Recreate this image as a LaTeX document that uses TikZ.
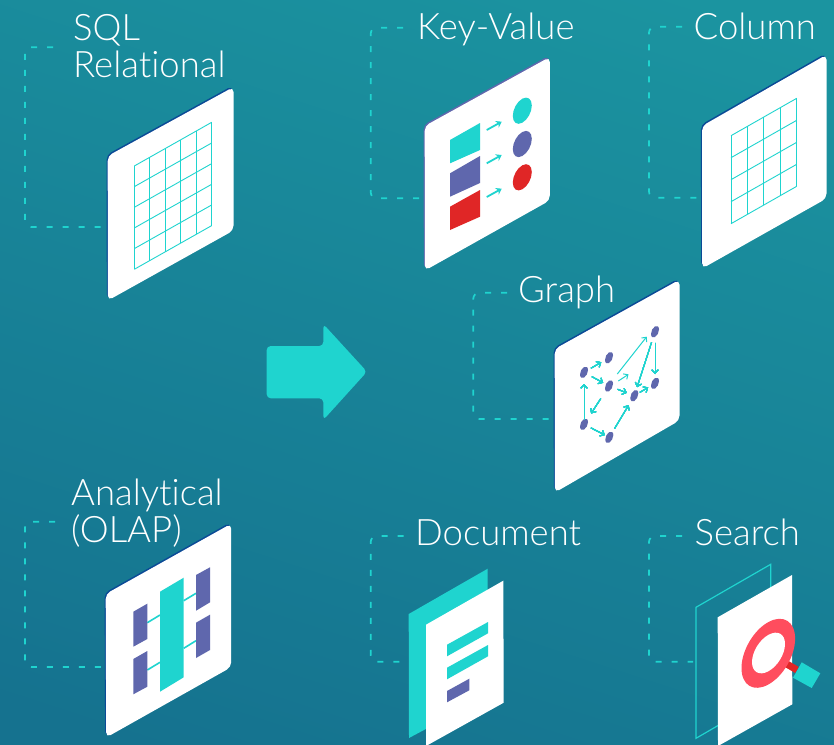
\documentclass[tikz,border=0pt]{standalone}
\usepackage{fontspec}
\setmainfont[Ligatures=NoCommon]{Lato Light}
\usetikzlibrary{arrows.meta}
\definecolor{bgA}{HTML}{1B94A0}
\definecolor{bgB}{HTML}{15728F}
\definecolor{tealc}{HTML}{1FD4CF}
\definecolor{bluec}{HTML}{5F67AD}
\definecolor{redc}{HTML}{E02626}
\definecolor{pinkc}{HTML}{FF4D5E}
\definecolor{edgec}{HTML}{0B4A96}
\tikzset{
  lbl/.style={anchor=base west,inner sep=0pt,text=white,font=\fontsize{36.5}{37.5}\selectfont,align=left},
  dashline/.style={draw=tealc,line width=1.7pt,dash pattern=on 6pt off 10pt,rounded corners=6pt},
  gridline/.style={draw=tealc,line width=0.9pt},
  garrow/.style={draw=tealc,line width=1pt,-{Straight Barb[length=3.5pt,width=6.5pt]}},
  kvarrow/.style={draw=tealc,line width=1.8pt,-{Stealth[length=5.5pt,width=7.5pt]}},
  link/.style={draw=tealc,line width=1.6pt},
}
% card: four corners, edge colour
\newcommand\card[5]{%
  \fill[#5,rounded corners=5pt,xshift=-1.1pt,yshift=1.2pt] #1 -- #2 -- #3 -- #4 -- cycle;
  \fill[white,rounded corners=5pt] #1 -- #2 -- #3 -- #4 -- cycle;}
% grid: x, y, width, rise, height, n
\newcommand\isogrid[6]{%
  \foreach \i in {0,...,#6}{
    \draw[gridline] ({#1+\i*#3/#6},{#2-\i*#4/#6}) -- ++(0,#5);
    \draw[gridline] (#1,{#2+\i*#5/#6}) -- ++(#3,-#4);
  }}
% skewed ellipse
\newcommand\isoell[4]{\fill[#4,cm={1,0.55,0,1,#1}] (0,0) ellipse [x radius=#2,y radius=#3];}
\begin{document}
\begin{tikzpicture}[x=1pt,y=-1pt]
\useasboundingbox (0,0) rectangle (834,744);
\clip (0,0) rectangle (834,744);
\shade[top color=bgA,bottom color=bgB,shading angle=-18] (-60,-60) rectangle (894,804);

% labels
\node[lbl] (sql) at (73,77.5) {SQL\\Relational};
\node[lbl] (kv) at (417,39.5) {Key-Value};
\node[lbl] (col) at (693.5,39) {Column};
\node[lbl] (graph) at (518,302.5) {Graph};
\node[lbl] (olap) at (71,542.7) {Analytical\\(OLAP)};
\node[lbl] (doc) at (415,545) {Document};
\node[lbl] (search) at (694.5,545) {Search};

% dashed connectors
\coordinate (sqlA) at (53,47.3); \coordinate (sqlX) at (25,100); \coordinate (sqlB) at (104,227);
\coordinate (kvA) at (403,27.7); \coordinate (kvX) at (370.7,100); \coordinate (kvB) at (424,198.3);
\coordinate (colA) at (682,26.7); \coordinate (colX) at (649,100); \coordinate (colB) at (702,197.7);
\coordinate (grA) at (507,292.7); \coordinate (grX) at (473.3,350); \coordinate (grB) at (554,419);
\coordinate (olA) at (55,521.7); \coordinate (olX) at (25,600); \coordinate (olB) at (105,667);
\coordinate (docA) at (403.5,536); \coordinate (docX) at (370.7,600); \coordinate (docB) at (409,661.7);
\coordinate (seA) at (682,536); \coordinate (seX) at (649,600); \coordinate (seB) at (693,661.7);
\foreach \a/\x/\b in {sqlA/sqlX/sqlB,kvA/kvX/kvB,colA/colX/colB,grA/grX/grB,olA/olX/olB,docA/docX/docB,seA/seX/seB}
  \draw[dashline] (\a) -| (\x) |- (\b);

% central arrow
\fill[tealc,rounded corners=4pt] (266.7,346) -- (323.3,346) -- (323.3,324) -- (367,371.7) -- (323.3,420) -- (323.3,398.3) -- (266.7,398.3) -- cycle;

% SQL card
\card{(107.7,156)}{(233.5,87)}{(233.5,230.5)}{(107.9,300.5)}{edgec}
\isogrid{134.3}{166}{77.4}{43.7}{103.3}{5}

% Key-Value card
\card{(424.7,126)}{(549.8,57)}{(549.8,200.5)}{(424.9,270.5)}{bluec}
\fill[tealc] (450,140) -- (480,123) -- (480,150) -- (450,163.3) -- cycle;
\fill[bluec] (450,173.3) -- (480,156) -- (480,183) -- (450,196.7) -- cycle;
\fill[redc] (450,206.7) -- (480,190) -- (480,216.7) -- (450,230) -- cycle;
\isoell{(522.3,110.7)}{9.5}{12}{tealc}
\isoell{(522.3,144)}{9.5}{12}{bluec}
\isoell{(522.3,177.3)}{9.5}{12}{redc}
\coordinate (ka1) at (486.7,130); \coordinate (kb1) at (501.7,121.7);
\coordinate (ka2) at (486.7,163.3); \coordinate (kb2) at (501.7,155);
\coordinate (ka3) at (486.7,197); \coordinate (kb3) at (501.7,188.7);
\draw[kvarrow] (ka1) -- (kb1);
\draw[kvarrow] (ka2) -- (kb2);
\draw[kvarrow] (ka3) -- (kb3);

% Column card
\card{(702,126)}{(826.5,54.7)}{(826.5,198.5)}{(702.2,268.5)}{edgec}
\isogrid{731}{135.7}{65.7}{37.4}{88}{4}

% Graph card
\card{(554.7,349)}{(679.5,279.7)}{(679.5,420.5)}{(554.9,492.5)}{edgec}
\coordinate (n1) at (584,372.3);
\coordinate (n2) at (609,357.7);
\coordinate (n3) at (609,386);
\coordinate (n4) at (584,424.3);
\coordinate (n5) at (609.3,437.3);
\coordinate (n6) at (634.3,395.7);
\coordinate (n7) at (655,383.3);
\coordinate (n8) at (655,331.7);
\coordinate (g1) at (618.3,381); \coordinate (g2) at (628.5,374.3);
\coordinate (g3) at (617.3,374); \coordinate (g4) at (646.7,336.7);
\foreach \n in {n1,n2,n3,n4,n5,n6,n7,n8} \isoell{(\n)}{4}{5.3}{bluec}
\foreach \a/\b/\s/\e in {n1/n2/8/9,n1/n3/9/6.7,n4/n1/4.5/11.7,n3/n4/15/13,n4/n5/7.7/5,n5/n6/10/11,n3/n6/9/8,n8/n6/11/9,n8/n7/11/9.3,n6/n7/6.5/8}
  \draw[garrow,shorten <=\s pt,shorten >=\e pt] (\a) -- (\b);
\draw[garrow] (g1) -- (g2);
\draw[garrow] (g3) -- (g4);

% Analytical card
\card{(105.7,594)}{(231.2,523.7)}{(231.2,667.2)}{(106.2,737.5)}{edgec}
\coordinate (ol1) at (147.3,622.7); \coordinate (oc1) at (160,615);
\coordinate (ol2) at (147.3,670); \coordinate (oc2) at (160,662.3);
\coordinate (oc3) at (183.7,600.7); \coordinate (or3) at (196,593.3);
\coordinate (oc4) at (183.7,648.3); \coordinate (or4) at (196,640.7);
\draw[link] (ol1) -- (oc1);
\draw[link] (ol2) -- (oc2);
\draw[link] (oc3) -- (or3);
\draw[link] (oc4) -- (or4);
\fill[tealc] (160,591.7) -- (183.7,577.7) -- (183.7,677.3) -- (160,691.7) -- cycle;
\fill[bluec] (133.3,611.7) -- (147.3,603.7) -- (147.3,639) -- (133.3,646.7) -- cycle;
\fill[bluec] (133.3,659) -- (147.3,651) -- (147.3,686.7) -- (133.3,694.3) -- cycle;
\fill[bluec] (196,575) -- (210,567.3) -- (210,602.3) -- (196,610.7) -- cycle;
\fill[bluec] (196,622.7) -- (210,614.7) -- (210,650) -- (196,658) -- cycle;

% Document
\fill[tealc] (408.7,614) -- (487.7,568.7) -- (487.7,696) -- (409,738) -- cycle;
\fill[white] (426,624.7) -- (503.3,580.7) -- (503.7,702.7) -- (426,746) -- cycle;
\fill[tealc] (447,644.7) -- (488,622) -- (488,633.3) -- (447,656.3) -- cycle;
\fill[tealc] (447,667.7) -- (488,645) -- (488,656.3) -- (447,679.3) -- cycle;
\fill[bluec] (447,691) -- (469.3,678.7) -- (469.3,690.3) -- (447,702.3) -- cycle;

% Search
\draw[tealc,line width=1.2pt,line join=miter] (696,607.3) -- (770.7,564.3) -- (770.7,695) -- (696,738.3) -- cycle;
\fill[white] (717.7,617.3) -- (792,575) -- (792.3,704.3) -- (718,746) -- cycle;
\coordinate (hA) at (785,663); \coordinate (hB) at (797,670);
\draw[redc,line width=7pt] (hA) -- (hB);
\fill[tealc] (801.7,662.3) -- (820.3,673.3) -- (811.7,688) -- (793,677.7) -- cycle;
\isoell{(768.3,653.3)}{26.8}{31.2}{pinkc}
\isoell{(768.5,653)}{16.5}{18.2}{white}
\end{tikzpicture}
\end{document}
